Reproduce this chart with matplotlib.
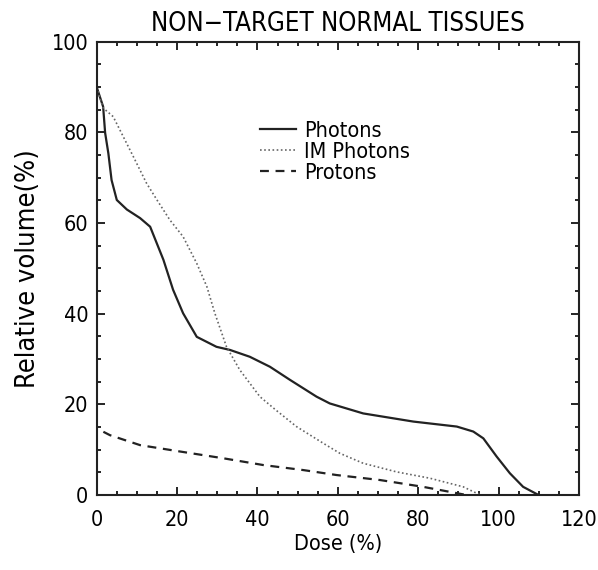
import matplotlib.pyplot as plt
from matplotlib.ticker import MultipleLocator

plt.rcParams['font.family'] = ['DejaVu Sans']
plt.rcParams['font.stretch'] = 'condensed'

photon_dose = [0, 1.6, 2.1, 2.9, 3.7, 5, 7.5, 10.8, 13.3, 16.6, 19, 21.5, 24.9, 29.8,
               33.2, 38.1, 43.1, 48.1, 54.7, 58, 66.3, 78.8, 89.6, 93.7, 96.2, 99.5,
               102.8, 106.1, 109.5, 110]
photon_vol = [90, 85.7, 79.9, 75.4, 69.5, 65.1, 63, 61.1, 59.2, 51.9, 45.3, 40.1, 34.9,
              32.7, 32, 30.5, 28.3, 25.4, 21.7, 20.2, 18, 16.2, 15.1, 14, 12.5, 8.5,
              4.8, 1.8, 0.2, 0]

im_dose = [0, 1.6, 4.1, 6.6, 9.1, 12.4, 15, 18.2, 21.5, 24.9, 27.4, 29.4, 32.3, 35.6,
           40.6, 44.5, 49.7, 56.4, 60.5, 66.3, 74.6, 82.9, 91.2, 94.5, 96]
im_vol = [90, 85.4, 83.5, 79.1, 74.7, 68.8, 65.1, 60.7, 57, 51.1, 46, 40.1, 32.7, 27.6,
          21.7, 18.8, 15.1, 11.4, 9.2, 7, 5.1, 3.7, 1.8, 0.4, 0]

proton_dose = [0, 0, 3.3, 10.8, 20.7, 31.5, 41.5, 51.4, 59.7, 70.5, 81.2, 89.6, 92]
proton_vol = [92, 14.7, 13.2, 11, 9.6, 8.1, 6.6, 5.5, 4.4, 3.3, 1.8, 0.4, 0]

fig = plt.figure(figsize=(5.98, 5.70), dpi=100)
ax = fig.add_axes([0.1617, 0.1316, 0.8065, 0.795])

ax.plot(photon_dose, photon_vol, color='#222222', lw=1.6, label='Photons')
ax.plot(im_dose, im_vol, color='#666666', lw=1.2, ls=(0, (1, 1.5)), label='IM Photons')
ax.plot(proton_dose, proton_vol, color='#222222', lw=1.6, ls=(0, (4, 3)), label='Protons')

ax.set_xlim(0, 120)
ax.set_ylim(0, 100)
ax.xaxis.set_major_locator(MultipleLocator(20))
ax.xaxis.set_minor_locator(MultipleLocator(5))
ax.yaxis.set_major_locator(MultipleLocator(20))
ax.yaxis.set_minor_locator(MultipleLocator(5))
ax.tick_params(which='both', direction='in', top=True, right=True, width=1.2)
ax.tick_params(which='major', length=6, labelsize=15.5)
ax.tick_params(axis='x', which='major', pad=11)
ax.tick_params(axis='y', which='major', pad=6)
ax.tick_params(which='minor', length=3)
for s in ax.spines.values():
    s.set_linewidth(1.5)
    s.set_color('#222222')

ax.set_title('NON\u2212TARGET NORMAL TISSUES', fontsize=18.5, pad=8)
ax.set_xlabel('Dose (%)', fontsize=15.5, labelpad=3)
ax.set_ylabel('Relative volume(%)', fontsize=19.5, labelpad=8)

ax.legend(loc='upper left', bbox_to_anchor=(0.32, 0.845), frameon=False, fontsize=15.5,
          handlelength=1.7, handletextpad=0.35, labelspacing=0.05, borderaxespad=0)

fig.savefig('out.png', dpi=100)
